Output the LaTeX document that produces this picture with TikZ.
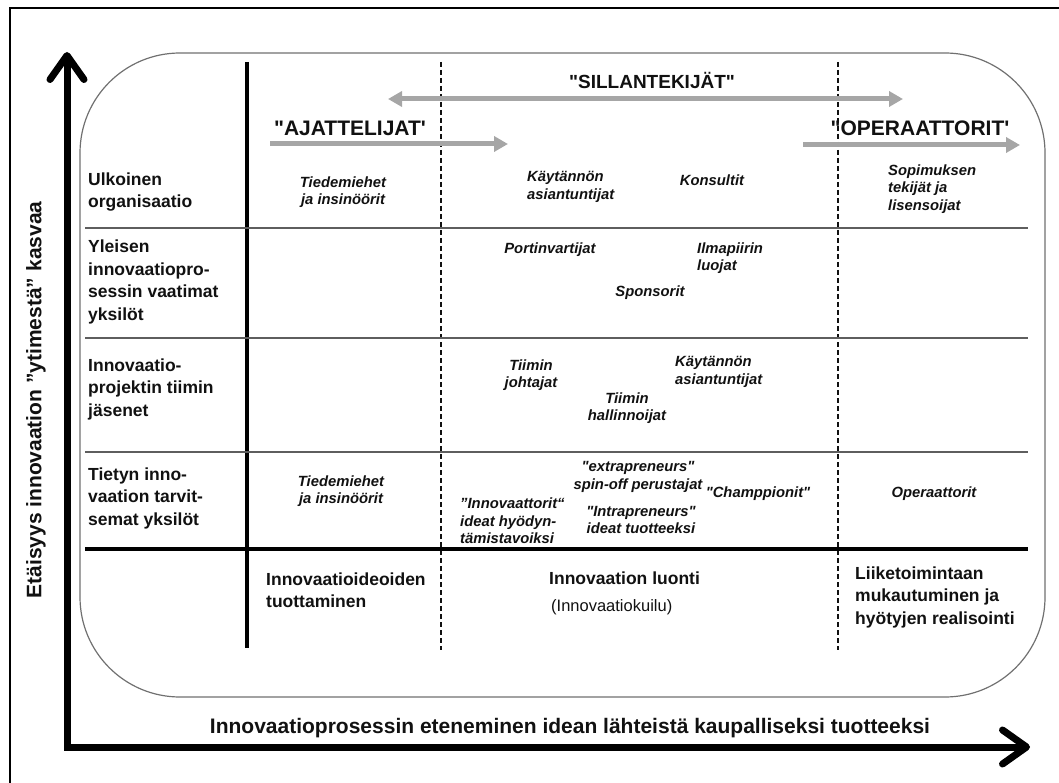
\documentclass[tikz,border=0pt]{standalone}
\usepackage{fontspec}
\setmainfont{Liberation Sans}
% same face without the TeX input mapping, so quote marks stay straight
\newfontfamily\plainarial{Liberation Sans}
\usetikzlibrary{arrows.meta}
\definecolor{arrowgray}{HTML}{A6A6A6}
\definecolor{boxgray}{HTML}{707070}
\definecolor{rulegray}{HTML}{5E5E5E}
\definecolor{inkblack}{HTML}{111111}
\newcommand{\sdq}{{\plainarial\char"0022\relax}}
\newcommand{\ssq}{{\plainarial\char"0027\relax}}
\tikzset{
  rowlab/.style={anchor=west, align=left, inner sep=0pt, text=inkblack,
    font=\bfseries\fontsize{17.5}{22.5}\selectfont},
  cell/.style={align=center, inner sep=0pt, text=inkblack,
    font=\bfseries\itshape\fontsize{14.8}{17.5}\selectfont},
  cellleft/.style={cell, align=left, anchor=west},
  headlab/.style={inner sep=0pt, text=inkblack, font=\bfseries\fontsize{21}{25}\selectfont},
  grayarrow/.style={draw=arrowgray, line width=5pt, -{Triangle[length=14pt,width=15pt]}},
  grayboth/.style={draw=arrowgray, line width=5pt, {Triangle[length=14pt,width=15pt]}-{Triangle[length=14pt,width=15pt]}},
  rowrule/.style={draw=rulegray, line width=2pt},
  phaserule/.style={draw=inkblack, line width=1.3pt, dash pattern=on 5pt off 3pt},
  axis/.style={draw=black, line width=7pt, line join=miter,
    {Straight Barb[length=24pt,width=34pt,round]}-{Straight Barb[length=24pt,width=34pt,round]}},
}
\begin{document}
\begin{tikzpicture}[x=1pt,y=-1pt]
\useasboundingbox (0,0) rectangle (1059,783);

% outer frame
\draw[line width=2.5pt] (10,783) -- (10,8) -- (1059,8);

% rounded background panel
\draw[boxgray, line width=1.2pt, rounded corners=100pt] (80,53) rectangle (1045,697);

% axes
\coordinate (ytip) at (67,52);
\coordinate (origin) at (67,747);
\coordinate (xtip) at (1030,747);
\draw[axis] (ytip) -- (origin) -- (xtip);

% grid lines
\coordinate (vtop) at (247,62);   \coordinate (vbot) at (247,648);
\coordinate (d1top) at (441,62);  \coordinate (d1bot) at (441,650);
\coordinate (d2top) at (838,62);  \coordinate (d2bot) at (838,650);
\draw[line width=4pt] (vtop) -- (vbot);
\draw[phaserule] (d1top) -- (d1bot);
\draw[phaserule] (d2top) -- (d2bot);
\foreach \yy/\nm in {228/ra,338/rb,452/rc}{
  \coordinate (\nm l) at (85,\yy); \coordinate (\nm r) at (1028,\yy);
  \draw[rowrule] (\nm l) -- (\nm r);
}
\coordinate (bl) at (85,549); \coordinate (br) at (1028,549);
\draw[line width=4pt] (bl) -- (br);

% group headings and their arrows
\node[headlab, font=\bfseries\fontsize{19}{23}\selectfont] (silla) at (652,80) {\sdq SILLANTEKIJÄT\sdq};
\coordinate (sa) at (388,99); \coordinate (sb) at (903,99);
\draw[grayboth] (sa) -- (sb);
\node[headlab] (ajat) at (350,128) {\sdq AJATTELIJAT\ssq};
\coordinate (aa) at (270,144); \coordinate (ab) at (508,144);
\draw[grayarrow] (aa) -- (ab);
\node[headlab] (oper) at (920,128) {\sdq OPERAATTORIT\ssq};
\coordinate (oa) at (803,145); \coordinate (ob) at (1020,145);
\draw[grayarrow] (oa) -- (ob);

% row labels
\node[rowlab] (r1) at (88,192) {Ulkoinen\\organisaatio};
\node[rowlab] (r2) at (88,282) {Yleisen\\innovaatiopro-\\sessin vaatimat\\yksilöt};
\node[rowlab] (r3) at (88,389) {Innovaatio-\\projektin tiimin\\jäsenet};
\node[rowlab] (r4) at (88,498) {Tietyn inno-\\vaation tarvit-\\semat yksilöt};

% row 1: external organisation
\node[cell] (c11) at (343,192) {Tiedemiehet\\ja insinöörit};
\node[cellleft] (c12) at (527,187) {Käytännön\\asiantuntijat};
\node[cell] (c13) at (712,180) {Konsultit};
\node[cellleft] (c14) at (888,189) {Sopimuksen\\tekijät ja\\lisensoijat};

% row 2
\node[cell] (c21) at (550,250) {Portinvartijat};
\node[cellleft] (c22) at (697,258) {Ilmapiirin\\luojat};
\node[cell] (c23) at (650,293) {Sponsorit};

% row 3
\node[cell] (c31) at (531,375) {Tiimin\\johtajat};
\node[cellleft] (c32) at (675,372) {Käytännön\\asiantuntijat};
\node[cell] (c33) at (627,408) {Tiimin\\hallinnoijat};

% row 4
\node[cell] (c41) at (341,491) {Tiedemiehet\\ja insinöörit};
\node[cellleft] (c42) at (460,521) {”Innovaattorit“\\ideat hyödyn-\\tämistavoiksi};
\node[cell] (c43) at (638,477) {\sdq extrapreneurs\sdq\\spin-off perustajat};
\node[cell] (c44) at (641,520) {\sdq Intrapreneurs\sdq\\ideat tuotteeksi};
\node[cell] (c45) at (758,494) {\sdq Champpionit\sdq};
\node[cell] (c46) at (934,494) {Operaattorit};

% phase labels
\node[rowlab] (p1) at (266,590) {Innovaatioideoiden\\tuottaminen};
\node[rowlab, anchor=base west] (p2) at (549,584) {Innovaation luonti};
\node[anchor=base west, inner sep=0pt, text=inkblack, font=\fontsize{16.5}{20}\selectfont] (p2b) at (551,611) {(Innovaatiokuilu)};
\node[rowlab] (p3) at (855,597) {Liiketoimintaan\\mukautuminen ja\\hyötyjen realisointi};

% axis titles
\node[inner sep=0pt, text=inkblack, font=\bfseries\fontsize{21}{25}\selectfont] (xlab) at (570,728)
  {Innovaatioprosessin eteneminen idean lähteistä kaupalliseksi tuotteeksi};
\node[inner sep=0pt, text=inkblack, rotate=90, font=\bfseries\fontsize{21}{25}\selectfont] (ylab) at (36,400)
  {Etäisyys innovaation ”ytimestä” kasvaa};
\end{tikzpicture}
\end{document}
